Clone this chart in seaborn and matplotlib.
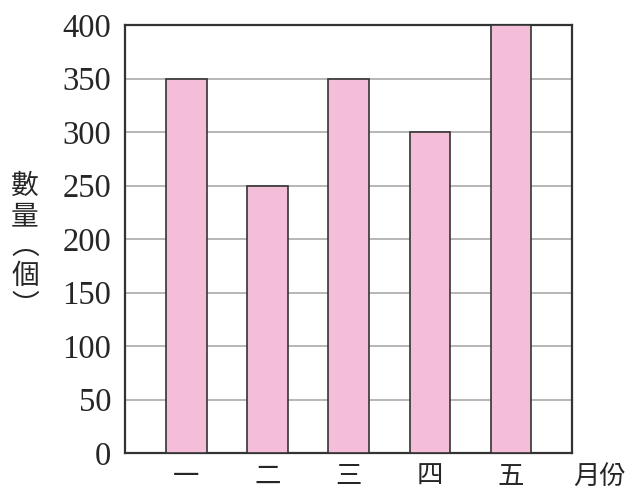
import matplotlib
matplotlib.use("Agg")
import matplotlib.pyplot as plt
import seaborn as sns
import pandas as pd

months = ["一", "二", "三", "四", "五"]
counts = [350, 250, 350, 300, 400]
y_ticks = [0, 50, 100, 150, 200, 250, 300, 350, 400]
x_title = "月份"
y_title = "數\n量\n︵\n個\n︶"

sns.set_style("white")
plt.rcParams["font.family"] = ["Liberation Serif", "Noto Sans CJK TC", "DejaVu Sans"]

df = pd.DataFrame({"month": months, "count": counts})

fig = plt.figure(figsize=(6.35, 4.94), dpi=100)
ax = fig.add_axes([0.197, 0.083, 0.704, 0.866])

sns.barplot(data=df, x="month", y="count", color="#F5BED8", saturation=1,
            width=0.5, edgecolor="#333333", linewidth=1.2, ax=ax, zorder=3)

ax.set_ylim(0, 400)
ax.set_xlim(-0.753, 4.753)
ax.set_yticks(y_ticks)
ax.set_yticklabels([str(v) for v in y_ticks], fontsize=23.5, family=["Liberation Serif"])
ax.set_xticks(range(len(months)))
ax.set_xticklabels(months, fontsize=19, family=["Noto Sans CJK TC"])
ax.tick_params(axis="both", length=0)
ax.tick_params(axis="y", pad=10)
ax.tick_params(axis="x", pad=7)
ax.yaxis.grid(True, color="#aaaaaa", linewidth=1.2, zorder=0)
ax.set_axisbelow(True)
for s in ax.spines.values():
    s.set_color("#333333")
    s.set_linewidth(1.6)
    s.set_visible(True)
ax.set_xlabel("")
ax.set_ylabel("")

fig.text(600 / 635, 1 - 476 / 494, x_title, fontsize=19, family=["Noto Sans CJK TC"],
         ha="center", va="center")
fig.text(25 / 635, 1 - 246 / 494, y_title, fontsize=20, family=["Noto Sans CJK TC"],
         ha="center", va="center", linespacing=1.0)

fig.savefig("out.png", dpi=100)
